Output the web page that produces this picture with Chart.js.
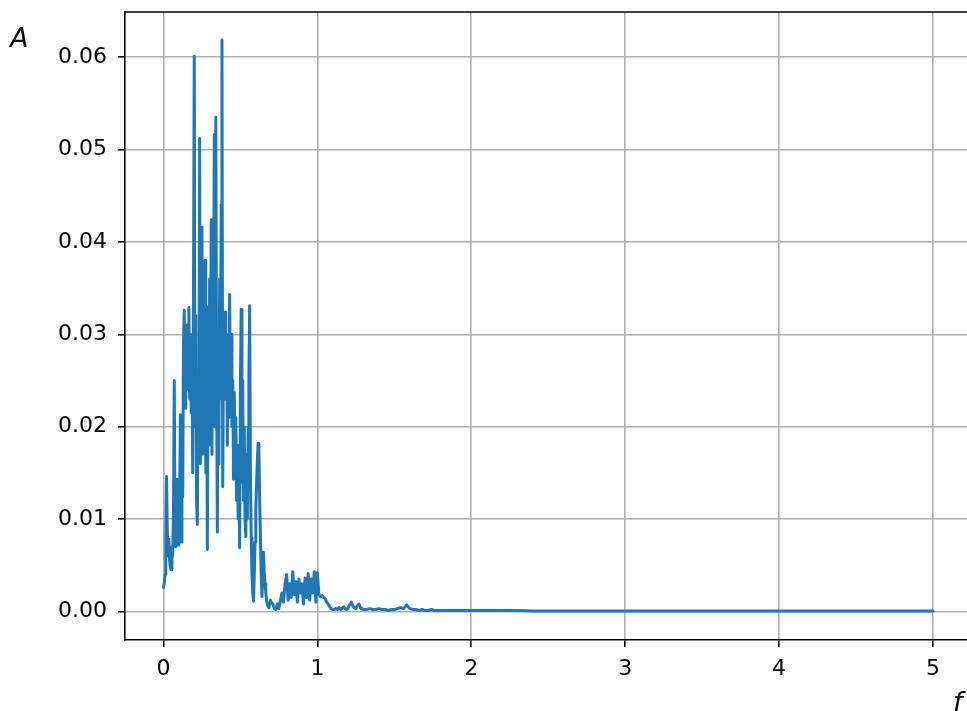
<!DOCTYPE html>
<html>
<head>
<meta charset="utf-8">
<script src="https://cdn.jsdelivr.net/npm/chart.js@4"></script>
<style>
  html, body { margin: 0; padding: 0; background: #fff; overflow: hidden; }
  #wrap { position: relative; width: 980px; height: 711px; }
</style>
</head>
<body>
<div id="wrap"><canvas id="spectrum" width="980" height="711"></canvas></div>
<script>
// Frequency bins (f) and amplitude (A)
const freqs = [
  0.000, 0.005, 0.010, 0.015, 0.020, 0.025, 0.030, 0.035, 0.040, 0.045,
  0.050, 0.055, 0.060, 0.065, 0.070, 0.075, 0.080, 0.085, 0.090, 0.095,
  0.100, 0.105, 0.110, 0.115, 0.120, 0.125, 0.130, 0.135, 0.140, 0.145,
  0.150, 0.155, 0.160, 0.165, 0.170, 0.175, 0.180, 0.185, 0.190, 0.195,
  0.200, 0.205, 0.210, 0.215, 0.220, 0.225, 0.230, 0.235, 0.240, 0.245,
  0.250, 0.255, 0.260, 0.265, 0.270, 0.275, 0.280, 0.285, 0.290, 0.295,
  0.300, 0.305, 0.310, 0.315, 0.320, 0.325, 0.330, 0.335, 0.340, 0.345,
  0.350, 0.355, 0.360, 0.365, 0.370, 0.375, 0.380, 0.385, 0.390, 0.395,
  0.400, 0.405, 0.410, 0.415, 0.420, 0.425, 0.430, 0.435, 0.440, 0.445,
  0.450, 0.455, 0.460, 0.465, 0.470, 0.475, 0.480, 0.485, 0.490, 0.495,
  0.500, 0.505, 0.510, 0.515, 0.520, 0.525, 0.530, 0.535, 0.540, 0.545,
  0.550, 0.555, 0.560, 0.565, 0.570, 0.575, 0.580, 0.585, 0.590, 0.595,
  0.600, 0.605, 0.610, 0.615, 0.620, 0.625, 0.630, 0.635, 0.640, 0.645,
  0.650, 0.655, 0.660, 0.665, 0.670, 0.675, 0.680, 0.685, 0.690, 0.695,
  0.700,
  0.71, 0.72, 0.73, 0.74, 0.75, 0.76, 0.77, 0.78, 0.79, 0.80,
  0.81, 0.82, 0.83, 0.84, 0.85, 0.86, 0.87, 0.88, 0.89, 0.90,
  0.91, 0.92, 0.93, 0.94, 0.95, 0.96, 0.97, 0.98, 0.99, 1.00,
  1.01, 1.02, 1.03, 1.04, 1.05, 1.06, 1.07, 1.08, 1.09, 1.10,
  1.11, 1.12, 1.13, 1.14, 1.15, 1.16, 1.17, 1.18, 1.19, 1.20,
  1.21, 1.22, 1.23, 1.24, 1.25, 1.26, 1.27, 1.28, 1.29, 1.30,
  1.32, 1.34, 1.36, 1.38, 1.40, 1.42, 1.44, 1.46, 1.48, 1.50,
  1.52, 1.54, 1.56, 1.58, 1.60, 1.62, 1.64, 1.66, 1.68, 1.70,
  1.72, 1.74, 1.76, 1.78, 1.80, 1.85, 1.90, 1.95, 2.00, 2.05,
  2.10, 2.15, 2.20, 2.25, 2.30, 2.40, 2.50, 2.60, 2.70, 2.80,
  2.90, 3.00, 3.20, 3.40, 3.60, 3.80, 4.00, 4.20, 4.40, 4.60,
  4.80, 5.00
];

const amps = [
  0.0026, 0.0030, 0.0040, 0.0075, 0.0146, 0.0085, 0.0060, 0.0078, 0.0055, 0.0048,
  0.0045, 0.0070, 0.0060, 0.0110, 0.0250, 0.0085, 0.0070, 0.0075, 0.0143, 0.0072,
  0.0080, 0.0120, 0.0213, 0.0075, 0.0150, 0.0124, 0.0290, 0.0326, 0.0220, 0.0300,
  0.0240, 0.0310, 0.0260, 0.0329, 0.0230, 0.0300, 0.0215, 0.0270, 0.0150, 0.0350,
  0.0601, 0.0200, 0.0320, 0.0120, 0.0094, 0.0250, 0.0180, 0.0512, 0.0160, 0.0300,
  0.0416, 0.0170, 0.0350, 0.0200, 0.0380, 0.0150, 0.0330, 0.0067, 0.0280, 0.0180,
  0.0360, 0.0220, 0.0424, 0.0170, 0.0380, 0.0250, 0.0516, 0.0200, 0.0535, 0.0250,
  0.0086, 0.0300, 0.0160, 0.0360, 0.0230, 0.0440, 0.0619, 0.0135, 0.0290, 0.0240,
  0.0324, 0.0230, 0.0300, 0.0180, 0.0290, 0.0210, 0.0343, 0.0220, 0.0300, 0.0200,
  0.0250, 0.0143, 0.0237, 0.0160, 0.0210, 0.0120, 0.0180, 0.0100, 0.0160, 0.0069,
  0.0250, 0.0327, 0.0140, 0.0250, 0.0120, 0.0200, 0.0100, 0.0081, 0.0170, 0.0100,
  0.0200, 0.0250, 0.0331, 0.0150, 0.0080, 0.0040, 0.0020, 0.0011, 0.0040, 0.0075,
  0.0110, 0.0140, 0.0165, 0.0182, 0.0175, 0.0120, 0.0080, 0.0040, 0.0016, 0.0040,
  0.0064, 0.0040, 0.0030, 0.0020, 0.0012, 0.0008, 0.0005, 0.0004, 0.0008, 0.0012,
  0.0010,
  0.0008, 0.0003, 0.0002, 0.0008, 0.0003, 0.0012, 0.0020, 0.0010, 0.0030, 0.0040,
  0.0012, 0.0030, 0.0015, 0.0043, 0.0018, 0.0032, 0.0010, 0.0035, 0.0020, 0.0030,
  0.0008, 0.0036, 0.0015, 0.0041, 0.0012, 0.0035, 0.0020, 0.0043, 0.0010, 0.0042,
  0.0018, 0.0016, 0.0017, 0.0015, 0.0014, 0.0010, 0.0008, 0.0005, 0.0003, 0.0002,
  0.0002, 0.0003, 0.0002, 0.0004, 0.0002, 0.0003, 0.0005, 0.0003, 0.0002, 0.0004,
  0.0007, 0.0010, 0.0006, 0.0004, 0.0003, 0.0006, 0.0008, 0.0004, 0.0003, 0.0002,
  0.0002, 0.0003, 0.0002, 0.0002, 0.0003, 0.0002, 0.0002, 0.0001, 0.0002, 0.0002,
  0.0003, 0.0004, 0.0003, 0.0007, 0.0003, 0.0002, 0.0002, 0.0001, 0.0002, 0.0001,
  0.0001, 0.0002, 0.0001, 0.0001, 0.0001, 0.0001, 0.0001, 0.0001, 0.0001, 0.0001,
  0.0001, 0.0001, 0.0001, 0.0001, 0.0001, 0.00005, 0.00005, 0.00005, 0.00005, 0.00005,
  0.00005, 0.00005, 0.00003, 0.00003, 0.00003, 0.00003, 0.00003, 0.00003, 0.00003, 0.00003,
  0.00003, 0.00003
];

const xTicks = [0, 1, 2, 3, 4, 5];
const yTicks = [0.00, 0.01, 0.02, 0.03, 0.04, 0.05, 0.06];

const tickFont = { family: 'DejaVu Sans', size: 22 };

// matplotlib-like frame (top and right spines) plus axis letters
const framePlugin = {
  id: 'frame',
  afterDraw(chart) {
    const ctx = chart.ctx;
    const a = chart.chartArea;
    ctx.save();
    ctx.strokeStyle = '#000';
    ctx.lineWidth = 1.6;
    ctx.beginPath();
    ctx.moveTo(a.left, a.top);
    ctx.lineTo(a.right, a.top);
    ctx.lineTo(a.right, a.bottom);
    ctx.stroke();
    ctx.fillStyle = '#000';
    ctx.font = 'italic 27px "DejaVu Sans"';
    ctx.textBaseline = 'alphabetic';
    ctx.fillText('A', 10, 47);
    ctx.fillText('f', 953, 711);
    ctx.restore();
  }
};

// no label overhang: the frame is placed by the layout padding only
function noOverhang(s) {
  s.paddingTop = 0;
  s.paddingBottom = 0;
  s.paddingLeft = 0;
  s.paddingRight = 0;
}

const points = freqs.map((f, i) => ({ x: f, y: amps[i] }));

new Chart(document.getElementById('spectrum'), {
  type: 'line',
  data: {
    datasets: [{
      data: points,
      borderColor: '#1f77b4',
      borderWidth: 3,
      borderJoinStyle: 'round',
      borderCapStyle: 'round',
      pointRadius: 0,
      tension: 0,
      fill: false
    }]
  },
  options: {
    responsive: false,
    animation: false,
    layout: { padding: { left: 0, right: 8.5, top: 12, bottom: 0 } },
    plugins: { legend: { display: false }, tooltip: { enabled: false } },
    scales: {
      x: {
        type: 'linear',
        min: -0.25,
        max: 5.25,
        afterBuildTicks: s => { s.ticks = xTicks.map(v => ({ value: v })); },
        afterFit: s => { s.height = 71; noOverhang(s); },
        grid: { color: '#b0b0b0', lineWidth: 1.6, tickColor: '#000', tickLength: 7, tickWidth: 1.6 },
        border: { color: '#000', width: 1.6 },
        ticks: { color: '#000', font: tickFont, padding: 9, maxRotation: 0,
                 callback: v => String(v) }
      },
      y: {
        type: 'linear',
        min: -0.0031,
        max: 0.0649,
        afterBuildTicks: s => { s.ticks = yTicks.map(v => ({ value: v })); },
        afterFit: s => { s.width = 125; noOverhang(s); },
        grid: { color: '#b0b0b0', lineWidth: 1.6, tickColor: '#000', tickLength: 7, tickWidth: 1.6 },
        border: { color: '#000', width: 1.6 },
        ticks: { color: '#000', font: tickFont, padding: 11,
                 callback: v => v.toFixed(2) }
      }
    }
  },
  plugins: [framePlugin]
});
</script>
</body>
</html>
